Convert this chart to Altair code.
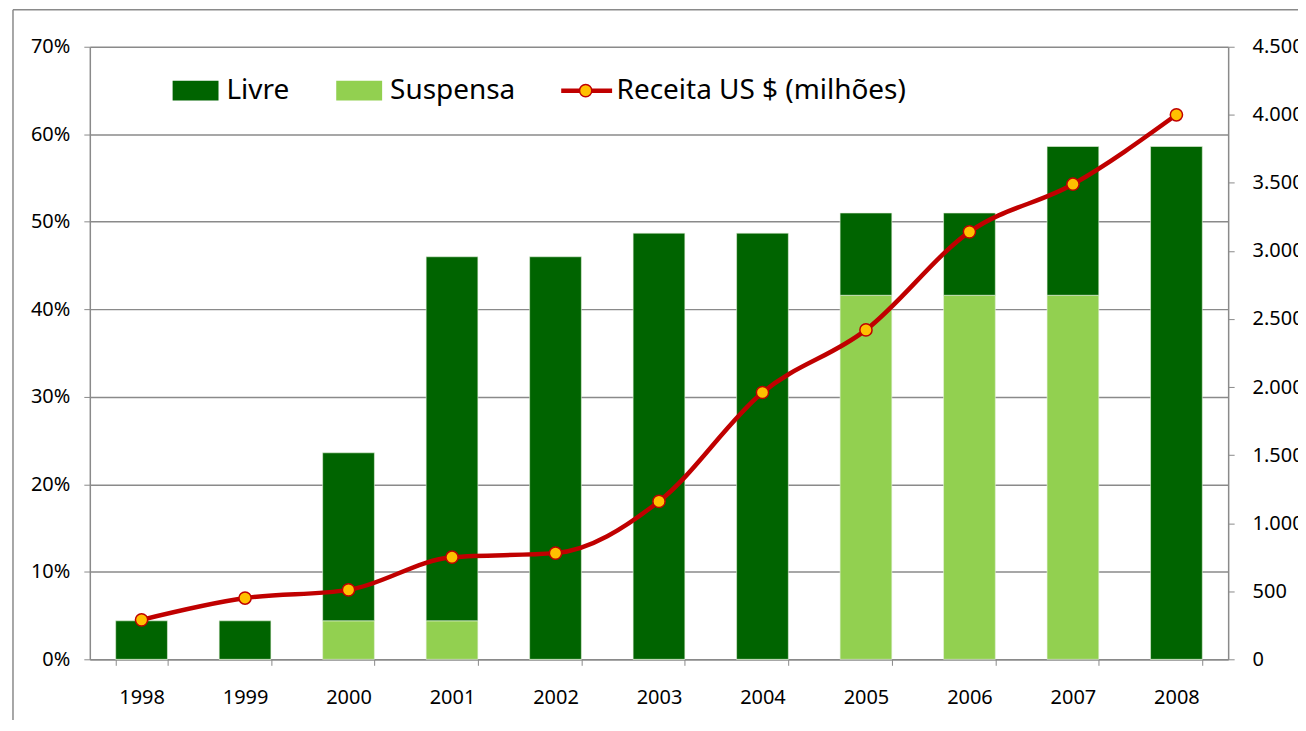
import altair as alt
import pandas as pd

anos = ["1998", "1999", "2000", "2001", "2002", "2003", "2004", "2005", "2006", "2007", "2008"]
livre = [4.4, 4.4, 19.2, 41.6, 46.0, 48.7, 48.7, 9.4, 9.4, 17.0, 58.6]
suspensa = [0.0, 0.0, 4.4, 4.4, 0.0, 0.0, 0.0, 41.6, 41.6, 41.6, 0.0]
receita = [290, 450, 510, 750, 780, 1160, 1960, 2420, 3140, 3490, 4000]
tipos = ["Livre", "Suspensa"]
cores = ["#006400", "#92D050"]
serie = "Receita US $ (milhões)"
marcador = "marcador"
pct_ticks = [0, 0.1, 0.2, 0.3, 0.4, 0.5, 0.6, 0.7]
rec_ticks = [0, 500, 1000, 1500, 2000, 2500, 3000, 3500, 4000, 4500]

rows = []
for i, a in enumerate(anos):
    rows.append({"ano": a, "tipo": "Suspensa", "ordem": 0, "valor": suspensa[i] / 100})
    rows.append({"ano": a, "tipo": "Livre", "ordem": 1, "valor": livre[i] / 100})
bars_df = pd.DataFrame(rows)
line_df = pd.DataFrame({
    "ano": anos, "receita": receita,
    "serie": [serie] * len(anos), "marcador": [marcador] * len(anos),
})

FONT = "Noto Sans"
GRAY = "#8A8A8A"

x_enc = alt.X(
    "ano:N",
    sort=anos,
    scale=alt.Scale(paddingInner=0.5, paddingOuter=0.25),
    axis=alt.Axis(
        title=None, labelAngle=0, tickBand="extent", tickSize=6, tickColor=GRAY,
        domainColor=GRAY, domainWidth=1.5, labelPadding=22, labelFontSize=20,
        labelColor="black", grid=False,
    ),
)

bars = alt.Chart(bars_df).mark_bar(stroke="#E6F2DC", strokeWidth=0.6).encode(
    x=x_enc,
    y=alt.Y(
        "valor:Q", stack="zero",
        scale=alt.Scale(domain=[0, 0.7], nice=False),
        axis=alt.Axis(
            orient="left", title=None, format=".0%", values=pct_ticks, grid=True,
            gridColor=GRAY, gridWidth=1.5, tickColor=GRAY, tickSize=6, domainColor=GRAY,
            domainWidth=1.5, labelPadding=14, labelFontSize=20, labelColor="black",
        ),
    ),
    color=alt.Color(
        "tipo:N",
        scale=alt.Scale(domain=tipos, range=cores),
        legend=alt.Legend(
            title=None, orient="none", legendX=83, legendY=21, direction="horizontal",
            symbolType="M-1,-0.43L1,-0.43L1,0.43L-1,0.43Z", symbolSize=2116,
            symbolStrokeWidth=0, labelFontSize=28, labelFont=FONT, labelColor="black",
            labelOffset=8, columnPadding=47, padding=0,
        ),
    ),
    order=alt.Order("ordem:Q", sort="ascending"),
)

y_right = alt.Y(
    "receita:Q",
    scale=alt.Scale(domain=[0, 4500], nice=False),
    axis=alt.Axis(
        orient="right", title=None, values=rec_ticks, grid=False,
        labelExpr="replace(format(datum.value, ','), ',', '.')",
        tickColor=GRAY, tickSize=6, domainColor=GRAY, domainWidth=1.5,
        labelPadding=18, labelFontSize=20, labelColor="black",
    ),
)

linha = alt.Chart(line_df).mark_line(strokeWidth=4.5, interpolate="monotone").encode(
    x=alt.X("ano:N", sort=anos),
    y=y_right,
    stroke=alt.Stroke(
        "serie:N",
        scale=alt.Scale(domain=[serie], range=["#C00000"]),
        legend=alt.Legend(
            title=None, orient="none", legendX=470, legendY=16, symbolType="stroke",
            symbolSize=2601, symbolStrokeWidth=4.5, labelFontSize=28, labelFont=FONT,
            labelColor="black", labelOffset=2, labelLimit=500, padding=0,
        ),
    ),
)

pontos = alt.Chart(line_df).mark_circle(
    size=150, stroke="#C00000", strokeWidth=1.5, opacity=1
).encode(
    x=alt.X("ano:N", sort=anos),
    y=y_right,
    fill=alt.Fill(
        "marcador:N",
        scale=alt.Scale(domain=[marcador], range=["#FFC000"]),
        legend=alt.Legend(
            title=None, orient="none", legendX=483, legendY=30, symbolType="circle",
            symbolSize=150, symbolStrokeColor="#C00000", symbolStrokeWidth=1.5,
            symbolOpacity=1, labelFontSize=28, labelFont=FONT, labelExpr="''",
            labelOffset=0, padding=0,
        ),
    ),
)

frame_df = pd.DataFrame({"k": [0]})
frame_left = alt.Chart(frame_df).mark_rule(color=GRAY, strokeWidth=1.5).encode(
    x=alt.value(-77), y=alt.value(-37), y2=alt.value(720)
)
frame_top = alt.Chart(frame_df).mark_rule(color=GRAY, strokeWidth=1.5).encode(
    x=alt.value(-77), x2=alt.value(1300), y=alt.value(-37)
)

chart = alt.layer(
    frame_left, frame_top, bars, alt.layer(linha, pontos)
).resolve_scale(y="independent").properties(
    width=1141, height=614,
    autosize=alt.AutoSizeParams(type="none"),
    padding={"left": 82, "top": 38, "right": 70, "bottom": 60},
).configure(font=FONT).configure_view(stroke=None)

chart.save("out.html", embed_options={"renderer": "svg", "actions": False})
